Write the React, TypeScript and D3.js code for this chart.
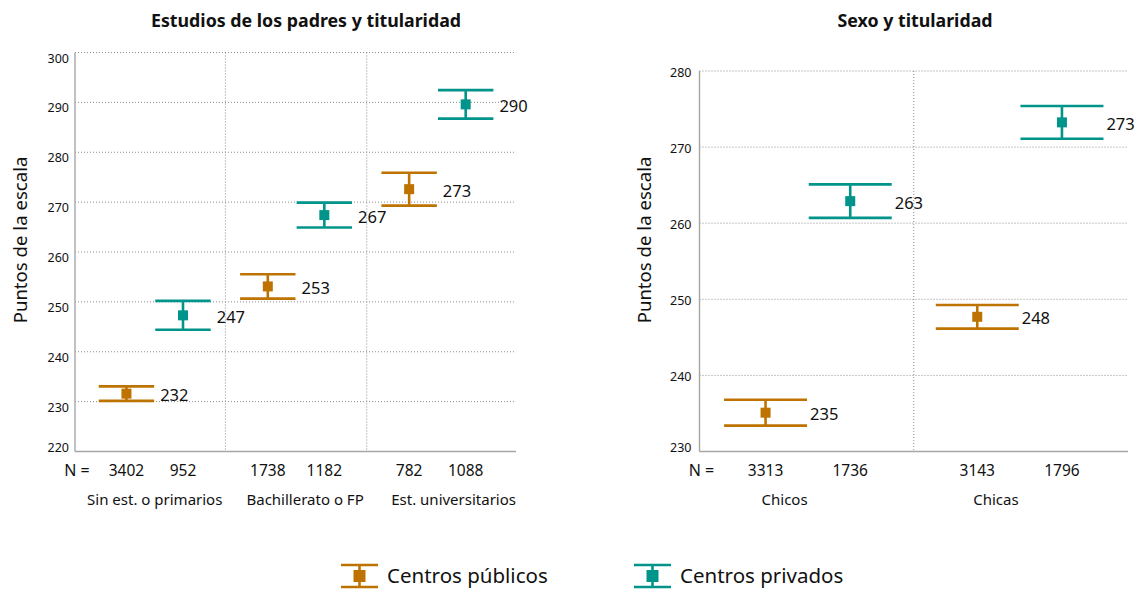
import React, { useEffect, useRef } from 'react';
import * as d3 from 'd3';

// Panel izquierdo: estudios de los padres y titularidad
const estudiosCategorias = ['Sin est. o primarios', 'Bachillerato o FP', 'Est. universitarios'];
const estudiosNPublicos = [3402, 1738, 782];
const estudiosNPrivados = [952, 1182, 1088];
const estudiosMediaPublicos = [231.6, 253.1, 272.6];
const estudiosErrorPublicos = [1.45, 2.45, 3.3];
const estudiosMediaPrivados = [247.3, 267.4, 289.6];
const estudiosErrorPrivados = [2.9, 2.5, 2.85];
const estudiosTicks = [220, 230, 240, 250, 260, 270, 280, 290, 300];

// Panel derecho: sexo y titularidad
const sexoCategorias = ['Chicos', 'Chicas'];
const sexoNPublicos = [3313, 3143];
const sexoNPrivados = [1736, 1796];
const sexoMediaPublicos = [235.1, 247.7];
const sexoErrorPublicos = [1.7, 1.55];
const sexoMediaPrivados = [262.9, 273.25];
const sexoErrorPrivados = [2.2, 2.15];
const sexoTicks = [230, 240, 250, 260, 270, 280];

const seriesNombres = ['Centros públicos', 'Centros privados'];
const seriesColores = ['#BE7300', '#00948B'];

const FONT = '"Noto Sans", "Open Sans", sans-serif';
const GRID = '#8c8c8c';
const AXIS = '#a6a6a6';

interface PanelConfig {
  title: string;
  titleX: number;
  categorias: string[];
  nPublicos: number[];
  nPrivados: number[];
  mediaPublicos: number[];
  errorPublicos: number[];
  mediaPrivados: number[];
  errorPrivados: number[];
  ticks: number[];
  left: number;
  right: number;
  top: number;
  bottom: number;
  xDomain: [number, number];
  tickDy: number;
  tickGap: number;
  labelGap: number;
  catAlign: 'end' | 'start';
  yTitleX: number;
}

const GROUP_STEP = 2.5; // distancia entre grupos en unidades de categoría

const paneles: PanelConfig[] = [
  {
    title: 'Estudios de los padres y titularidad',
    titleX: 306,
    categorias: estudiosCategorias,
    nPublicos: estudiosNPublicos,
    nPrivados: estudiosNPrivados,
    mediaPublicos: estudiosMediaPublicos,
    errorPublicos: estudiosErrorPublicos,
    mediaPrivados: estudiosMediaPrivados,
    errorPrivados: estudiosErrorPrivados,
    ticks: estudiosTicks,
    left: 75,
    right: 516,
    top: 52.5,
    bottom: 451.5,
    xDomain: [-0.91, 6.89],
    tickDy: 5.5,
    tickGap: 6,
    labelGap: 6,
    catAlign: 'end',
    yTitleX: 19,
  },
  {
    title: 'Sexo y titularidad',
    titleX: 915,
    categorias: sexoCategorias,
    nPublicos: sexoNPublicos,
    nPrivados: sexoNPrivados,
    mediaPublicos: sexoMediaPublicos,
    errorPublicos: sexoErrorPublicos,
    mediaPrivados: sexoMediaPrivados,
    errorPrivados: sexoErrorPrivados,
    ticks: sexoTicks,
    left: 699.5,
    right: 1128,
    top: 71,
    bottom: 451.5,
    xDomain: [-0.78, 4.28],
    tickDy: 1.5,
    tickGap: 8,
    labelGap: 3,
    catAlign: 'start',
    yTitleX: 643,
  },
];

function drawPanel(svg: d3.Selection<SVGSVGElement, unknown, null, undefined>, cfg: PanelConfig) {
  const g = svg.append('g');
  const yMin = d3.min(cfg.ticks) as number;
  const yMax = d3.max(cfg.ticks) as number;
  const y = d3.scaleLinear().domain([yMin, yMax]).range([cfg.bottom, cfg.top]);
  const x = d3.scaleLinear().domain(cfg.xDomain).range([cfg.left, cfg.right]);
  const pos = (gi: number, si: number) => gi * GROUP_STEP + si;
  const capHalf = x(0.49) - x(0);

  // título
  g.append('text')
    .attr('x', cfg.titleX)
    .attr('y', 20)
    .attr('text-anchor', 'middle')
    .attr('dominant-baseline', 'central')
    .style('font-family', FONT)
    .style('font-size', '17.8px')
    .style('font-weight', 'bold')
    .attr('fill', '#111')
    .text(cfg.title);

  // rejilla horizontal
  g.append('g')
    .selectAll('line')
    .data(cfg.ticks.filter(t => t !== yMin))
    .join('line')
    .attr('x1', cfg.left)
    .attr('x2', cfg.right)
    .attr('y1', d => y(d))
    .attr('y2', d => y(d))
    .attr('stroke', GRID)
    .attr('stroke-width', 1)
    .attr('stroke-dasharray', '1,2');

  // separadores de grupo
  g.append('g')
    .selectAll('line')
    .data(d3.range(1, cfg.categorias.length))
    .join('line')
    .attr('x1', d => x(pos(d, 0) - (GROUP_STEP - 1) / 2))
    .attr('x2', d => x(pos(d, 0) - (GROUP_STEP - 1) / 2))
    .attr('y1', cfg.top)
    .attr('y2', cfg.bottom)
    .attr('stroke', GRID)
    .attr('stroke-width', 1)
    .attr('stroke-dasharray', '1,2');

  // ejes
  g.append('line')
    .attr('x1', cfg.left).attr('x2', cfg.left)
    .attr('y1', cfg.top).attr('y2', cfg.bottom)
    .attr('stroke', AXIS).attr('stroke-width', 1.4);
  g.append('line')
    .attr('x1', cfg.left).attr('x2', cfg.right)
    .attr('y1', cfg.bottom).attr('y2', cfg.bottom)
    .attr('stroke', AXIS).attr('stroke-width', 1.4);

  // etiquetas del eje y
  g.append('g')
    .selectAll('text')
    .data(cfg.ticks)
    .join('text')
    .attr('x', cfg.left - cfg.tickGap)
    .attr('y', d => y(d) + (d === yMin ? -4 : cfg.tickDy))
    .attr('text-anchor', 'end')
    .attr('dominant-baseline', 'central')
    .style('font-family', FONT)
    .style('font-size', '12.5px')
    .attr('fill', '#111')
    .text(d => d);

  // título eje y
  g.append('text')
    .attr('transform', `translate(${cfg.yTitleX},240) rotate(-90)`)
    .attr('text-anchor', 'middle')
    .attr('dominant-baseline', 'central')
    .style('font-family', FONT)
    .style('font-size', '18.6px')
    .attr('fill', '#111')
    .text('Puntos de la escala');

  // fila de N
  const nRowY = cfg.bottom + 18;
  g.append('text')
    .attr('x', cfg.left + 2)
    .attr('y', nRowY)
    .attr('text-anchor', 'middle')
    .attr('dominant-baseline', 'central')
    .style('font-family', FONT)
    .style('font-size', '16px')
    .attr('fill', '#111')
    .text('N =');

  const puntos = cfg.categorias.flatMap((cat, gi) => [
    { gi, si: 0, n: cfg.nPublicos[gi], media: cfg.mediaPublicos[gi], err: cfg.errorPublicos[gi] },
    { gi, si: 1, n: cfg.nPrivados[gi], media: cfg.mediaPrivados[gi], err: cfg.errorPrivados[gi] },
  ]);

  g.append('g')
    .selectAll('text')
    .data(puntos)
    .join('text')
    .attr('x', d => x(pos(d.gi, d.si)))
    .attr('y', nRowY)
    .attr('text-anchor', 'middle')
    .attr('dominant-baseline', 'central')
    .style('font-family', FONT)
    .style('font-size', '15.5px')
    .attr('fill', '#111')
    .text(d => d.n);

  // categorías
  const ultimo = cfg.categorias.length - 1;
  g.append('g')
    .selectAll('text')
    .data(cfg.categorias)
    .join('text')
    .attr('x', (d, gi) =>
      cfg.catAlign === 'end'
        ? (gi === ultimo ? cfg.right : x(pos(gi, 1) + (GROUP_STEP - 1) / 2) - 3)
        : x(pos(gi, 0)) - 4)
    .attr('y', cfg.bottom + 47)
    .attr('text-anchor', cfg.catAlign)
    .attr('dominant-baseline', 'central')
    .style('font-family', FONT)
    .style('font-size', '15px')
    .attr('fill', '#111')
    .text(d => d);

  // barras de error
  const barras = g.append('g')
    .selectAll('g')
    .data(puntos)
    .join('g')
    .attr('transform', d => `translate(${x(pos(d.gi, d.si))},0)`);

  barras.append('line')
    .attr('x1', 0).attr('x2', 0)
    .attr('y1', d => y(d.media + d.err))
    .attr('y2', d => y(d.media - d.err))
    .attr('stroke', d => seriesColores[d.si])
    .attr('stroke-width', 2.6);

  barras.selectAll('line.cap')
    .data(d => [d.media + d.err, d.media - d.err].map(v => ({ v, si: d.si })))
    .join('line')
    .attr('class', 'cap')
    .attr('x1', -capHalf).attr('x2', capHalf)
    .attr('y1', d => y(d.v)).attr('y2', d => y(d.v))
    .attr('stroke', d => seriesColores[d.si])
    .attr('stroke-width', 2.6);

  barras.append('rect')
    .attr('x', -5).attr('width', 10)
    .attr('y', d => y(d.media) - 5).attr('height', 10)
    .attr('fill', d => seriesColores[d.si]);

  barras.append('text')
    .attr('x', capHalf + cfg.labelGap)
    .attr('y', d => y(d.media) + 1)
    .attr('dominant-baseline', 'central')
    .style('font-family', FONT)
    .style('font-size', '16.5px')
    .attr('fill', '#111')
    .text(d => Math.round(d.media));
}

const App: React.FC = () => {
  const svgRef = useRef<SVGSVGElement>(null);

  useEffect(() => {
    if (!svgRef.current) return;
    const svg = d3.select(svgRef.current);
    svg.selectAll('*').remove();

    paneles.forEach(p => drawPanel(svg, p));

    // leyenda
    const legendX = [341, 634];
    const legendY = 576;
    const leg = svg.append('g')
      .selectAll('g')
      .data(seriesNombres)
      .join('g')
      .attr('transform', (d, i) => `translate(${legendX[i]},${legendY})`);

    leg.append('line')
      .attr('x1', 18.5).attr('x2', 18.5).attr('y1', -11).attr('y2', 11)
      .attr('stroke', (d, i) => seriesColores[i]).attr('stroke-width', 2.6);
    leg.selectAll('line.cap')
      .data((d, i) => [-11, 11].map(dy => ({ dy, i })))
      .join('line')
      .attr('class', 'cap')
      .attr('x1', 0).attr('x2', 37)
      .attr('y1', d => d.dy).attr('y2', d => d.dy)
      .attr('stroke', d => seriesColores[d.i]).attr('stroke-width', 2.6);
    leg.append('rect')
      .attr('x', 12.5).attr('y', -6).attr('width', 12).attr('height', 12)
      .attr('fill', (d, i) => seriesColores[i]);
    leg.append('text')
      .attr('x', 46)
      .attr('y', -1.5)
      .attr('dominant-baseline', 'central')
      .style('font-family', FONT)
      .style('font-size', '20.5px')
      .attr('fill', '#111')
      .text(d => d);
  }, []);

  return (
    <div style={{ position: 'absolute', left: 0, top: 0 }}>
      <svg ref={svgRef} width={1140} height={589} style={{ display: 'block', background: '#fff' }} />
    </div>
  );
};

export default App;
